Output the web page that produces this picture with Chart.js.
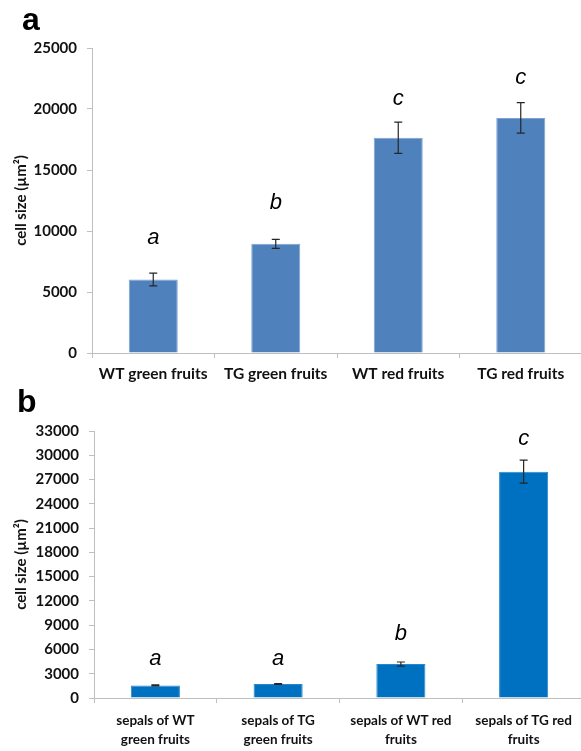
<!DOCTYPE html>
<html>
<head>
<meta charset="utf-8">
<script src="https://cdn.jsdelivr.net/npm/chart.js@4.4.0/dist/chart.umd.min.js"></script>
<style>
  html, body { margin: 0; padding: 0; background: #fff; overflow: hidden; }
  body { width: 581px; height: 751px; position: relative; }
  .panel { position: absolute; font-family: "Liberation Sans", Arial, sans-serif; font-weight: bold; font-size: 32px; line-height: 32px; color: #000; z-index: 2; }
  canvas { position: absolute; left: 0; }
</style>
</head>
<body>
<div class="panel" style="left:22px; top:3px;">a</div>
<div class="panel" style="left:17px; top:385px;">b</div>
<canvas id="chartA" width="582" height="390" style="top:0px;"></canvas>
<canvas id="chartB" width="585" height="371" style="top:380px;"></canvas>
<script>
// panel a: fruit cells
const catsA = ['WT green fruits', 'TG green fruits', 'WT red fruits', 'TG red fruits'];
const meansA = [6030, 8950, 17650, 19270];
const errA = [520, 370, 1280, 1250];
const lettersA = ['a', 'b', 'c', 'c'];
const yTicksA = [0, 5000, 10000, 15000, 20000, 25000];

// panel b: sepal cells
const catsB = [['sepals of WT', 'green fruits'], ['sepals of TG', 'green fruits'], ['sepals of WT red', 'fruits'], ['sepals of TG red', 'fruits']];
const meansB = [1560, 1730, 4200, 27970];
const errB = [60, 60, 250, 1420];
const lettersB = ['a', 'a', 'b', 'c'];
const yTicksB = [0, 3000, 6000, 9000, 12000, 15000, 18000, 21000, 24000, 27000, 30000, 33000];

// error bars + significance letters
const extras = {
  id: 'extras',
  afterDatasetsDraw(chart, args, opts) {
    const ctx = chart.ctx;
    const y = chart.scales.y;
    const meta = chart.getDatasetMeta(0);
    ctx.save();
    meta.data.forEach((bar, i) => {
      const v = opts.means[i], e = opts.errs[i];
      const top = y.getPixelForValue(v + e);
      const bot = y.getPixelForValue(v - e);
      ctx.strokeStyle = '#262626';
      ctx.lineWidth = 1.2;
      ctx.beginPath();
      ctx.moveTo(bar.x, top); ctx.lineTo(bar.x, bot);
      ctx.moveTo(bar.x - 4, top); ctx.lineTo(bar.x + 4, top);
      ctx.moveTo(bar.x - 4, bot); ctx.lineTo(bar.x + 4, bot);
      ctx.stroke();
      ctx.fillStyle = '#000';
      ctx.font = 'italic 22px "Liberation Sans", Arial, sans-serif';
      ctx.textAlign = 'center';
      ctx.textBaseline = 'middle';
      ctx.fillText(opts.letters[i], bar.x, top - opts.lift[i]);
    });
    ctx.restore();
  }
};

function makeChart(id, cats, means, errs, letters, yTicks, cfg) {
  return new Chart(document.getElementById(id), {
    type: 'bar',
    data: {
      labels: cats,
      datasets: [{
        data: means,
        backgroundColor: cfg.color,
        borderColor: cfg.edge,
        borderWidth: 1,
        categoryPercentage: 1,
        barPercentage: 0.4
      }]
    },
    options: {
      responsive: false,
      animation: false,
      devicePixelRatio: 1,
      layout: { padding: { top: cfg.top, left: 0, right: 0, bottom: 0 } },
      plugins: {
        legend: { display: false },
        tooltip: { enabled: false },
        extras: { means: means, errs: errs, letters: letters, lift: cfg.lift }
      },
      scales: {
        x: {
          grid: { display: true, drawOnChartArea: false, offset: true, tickLength: 5, color: '#bfbfbf' },
          border: { color: '#bfbfbf' },
          ticks: {
            color: '#111',
            padding: cfg.xPad,
            maxRotation: 0,
            autoSkip: false,
            font: { family: 'Lato', weight: 'bold', size: cfg.xFont, lineHeight: cfg.xLine }
          },
          afterFit(s) { s.height = cfg.xH; }
        },
        y: {
          min: yTicks[0],
          max: yTicks[yTicks.length - 1],
          afterBuildTicks(s) { s.ticks = yTicks.map(v => ({ value: v })); },
          grid: { display: true, drawOnChartArea: false, tickLength: 5, color: '#bfbfbf' },
          border: { color: '#bfbfbf' },
          ticks: {
            color: '#111',
            padding: 10,
            font: { family: 'Lato', weight: 'bold', size: 15 },
            callback: v => String(v)
          },
          title: {
            display: true,
            text: 'cell size (µm²)',
            color: '#111',
            padding: { top: 12, bottom: 0 },
            font: { family: 'Lato', weight: 'bold', size: 15 }
          },
          afterFit(s) { s.width = cfg.yW; }
        }
      }
    },
    plugins: [extras]
  });
}

makeChart('chartA', catsA, meansA, errA, lettersA, yTicksA, {
  color: '#4f81bd', edge: '#7ea3d0', top: 48, xH: 37, yW: 92,
  xPad: 7, xFont: 15.5, xLine: 1.2,
  lift: [35, 36, 23, 25]
});

makeChart('chartB', catsB, meansB, errB, lettersB, yTicksB, {
  color: '#0070c0', edge: '#2a86cc', top: 51, xH: 53, yW: 94,
  xPad: 9, xFont: 13.5, xLine: 1.35,
  lift: [26, 25, 28, 21]
});
</script>
</body>
</html>
